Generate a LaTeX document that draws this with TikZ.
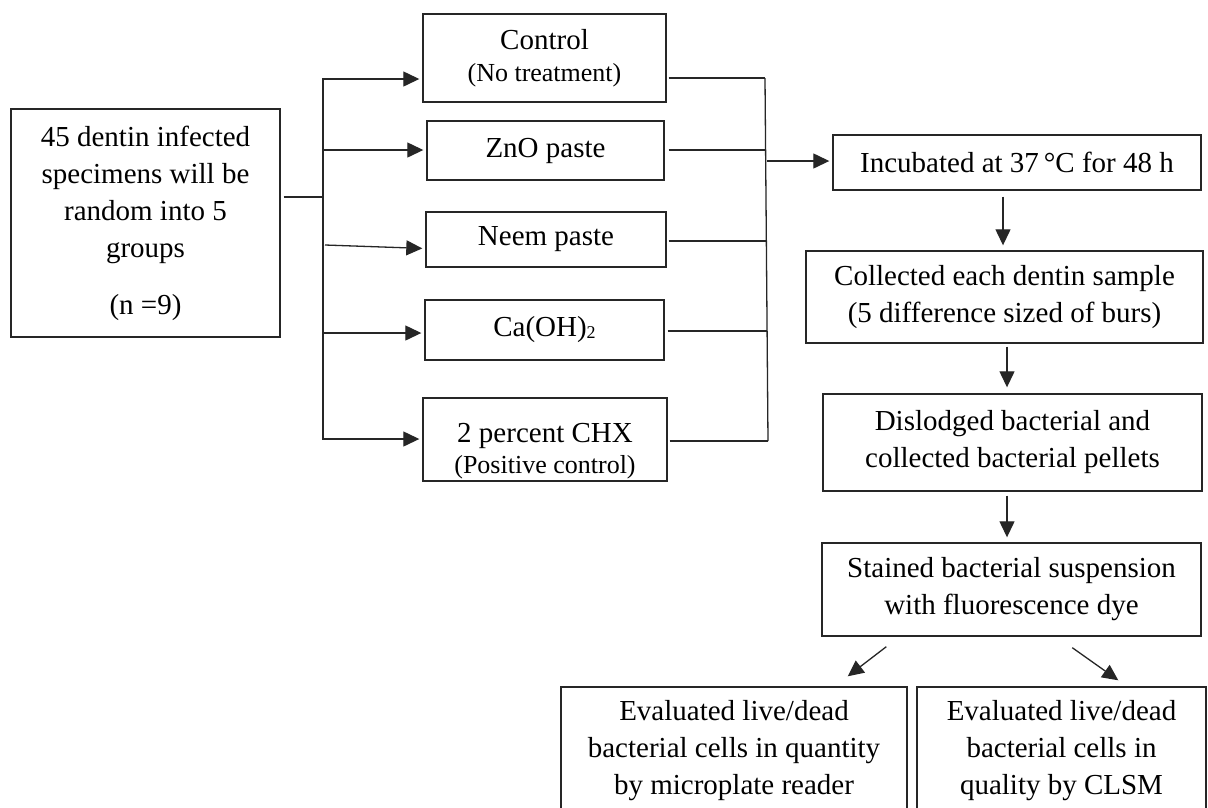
\documentclass[tikz,border=0pt]{standalone}
\usepackage{fontspec}
\setmainfont{Liberation Serif}
\usetikzlibrary{arrows.meta,calc}
\definecolor{ink}{HTML}{262626}
\newcommand{\subtwo}{\raisebox{-1.5pt}{\fontsize{18}{18}\selectfont 2}}
\begin{document}
\begin{tikzpicture}[x=1pt,y=-1pt,
  box/.style={draw=ink, line width=1.4pt, align=center, inner sep=0pt,
    font=\fontsize{29}{37}\selectfont},
  wire/.style={draw=ink, line width=1.3pt},
  arr/.style={wire, -{Triangle[length=16pt,width=15pt]}}
]
\clip (0,0) rectangle (1208,807);
\fill[white] (0,0) rectangle (1208,807);

% source specimens
\node[box, minimum width=269pt, minimum height=228pt] (src) at (145.5,223)
  {45 dentin infected\\specimens will be\\random into 5\\groups\\[20pt](n =9)};

% treatment groups
\node[box, minimum width=243pt, minimum height=88pt] (ctrl) at (544.5,58)
  {Control\\[-5pt]{\fontsize{26}{30}\selectfont (No treatment)}};
\node[box, minimum width=237pt, minimum height=59pt] (zno) at (545.5,150.5) {ZnO paste};
\node[box, minimum width=240pt, minimum height=55pt] (neem) at (546,239.5) {Neem paste};
\node[box, minimum width=239pt, minimum height=60pt] (caoh) at (544.5,330) {Ca(OH)\subtwo};
\node[box, minimum width=244pt, minimum height=83pt] (chx) at (545,439.5)
  {\rule{0pt}{42pt}2 percent CHX\\[-6pt]{\fontsize{26}{30}\selectfont (Positive control)}};

% processing chain
\node[box, minimum width=368pt, minimum height=55pt] (inc) at (1017,162.5)
  {Incubated at 37\,°C for 48 h};
\node[box, minimum width=397pt, minimum height=92pt] (coll) at (1004.5,297)
  {Collected each dentin sample\\(5 difference sized of burs)};
\node[box, minimum width=379pt, minimum height=97pt] (disl) at (1012.5,442.5)
  {Dislodged bacterial and\\collected bacterial pellets};
\node[box, minimum width=379pt, minimum height=93pt] (stain) at (1011.5,589.5)
  {Stained bacterial suspension\\with fluorescence dye};
\node[box, minimum width=346pt, minimum height=128pt] (evq) at (734,751)
  {Evaluated live/dead\\bacterial cells in quantity\\by microplate reader};
\node[box, minimum width=289pt, minimum height=128pt] (evl) at (1061.5,751)
  {Evaluated live/dead\\bacterial cells in\\quality by CLSM};

% split into the five groups
\coordinate (split) at (323,197);
\coordinate (bt) at (323,78);
\coordinate (bb) at (323,440);
\coordinate (t1) at (323,79);
\coordinate (t2) at (323,150);
\coordinate (t3) at (325,245);
\coordinate (t4) at (323,333);
\coordinate (t5) at (323,439);
\draw[wire] (src.east |- split) ++(3,0) -- (split);
\draw[wire] (bt) -- (bb);
\draw[arr, shorten >=3pt] (t1) -- (ctrl.west |- t1);
\draw[arr, shorten >=3pt] (t2) -- (zno.west |- t2);
\draw[arr, shorten >=3pt] (t3) -- ($(neem.west)+(0,9)$);
\draw[arr, shorten >=3pt] (t4) -- (caoh.west |- t4);
\draw[arr, shorten >=3pt] (t5) -- (chx.west |- t5);

% merge into incubation
\coordinate (m1) at (765,78);
\coordinate (m2) at (766,150);
\coordinate (m3) at (766,241);
\coordinate (m4) at (767,331);
\coordinate (m5) at (768,441);
\coordinate (mo) at (767,161);
\draw[wire] (ctrl.east |- m1) ++(2,0) -- (m1);
\draw[wire] (zno.east |- m2) ++(4,0) -- (m2);
\draw[wire] (neem.east |- m3) ++(2,0) -- (m3);
\draw[wire] (caoh.east |- m4) ++(3,0) -- (m4);
\draw[wire] (chx.east |- m5) ++(2,0) -- (m5);
\draw[wire] (m1) -- (m5);
\draw[arr, shorten >=3pt] (mo) -- (inc.west |- mo);

% downward chain
\coordinate (d1) at (1003,0);
\coordinate (d2) at (1007,0);
\draw[arr, shorten <=6pt, shorten >=5pt] (inc.south -| d1) -- (coll.north -| d1);
\draw[arr, shorten <=3pt, shorten >=6pt] (coll.south -| d2) -- (disl.north -| d2);
\draw[arr, shorten <=4pt, shorten >=5pt] (disl.south -| d2) -- (stain.north -| d2);

% two evaluation routes
\draw[arr] ($(stain.south west)+(65,10)$) -- ($(evq.north east)+(-60,-10)$);
\draw[arr] ($(stain.south west)+(251,11)$) -- ($(evl.north west)+(202,-6)$);
\end{tikzpicture}
\end{document}
